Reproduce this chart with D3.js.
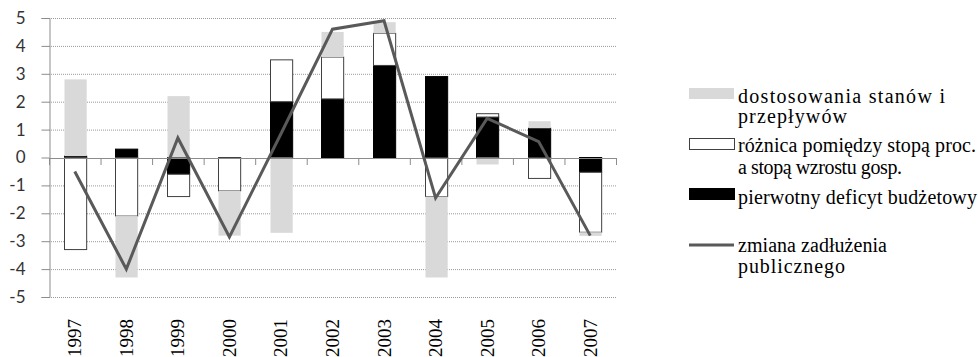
<!DOCTYPE html>
<html>
<head>
<meta charset="utf-8">
<script src="https://cdn.jsdelivr.net/npm/d3@7"></script>
<style>
  html, body { margin: 0; padding: 0; background: #fff; }
  svg { display: block; }
</style>
</head>
<body>
<svg id="chart" width="978" height="357"></svg>
<script>
// Years on the category axis
const years = ["1997","1998","1999","2000","2001","2002","2003","2004","2005","2006","2007"];
// Primary budget deficit (black)
const primaryDeficit = [0.05, 0.3, -0.6, 0, 2.0, 2.1, 3.3, 2.9, 1.45, 1.05, -0.53];
// Interest rate minus growth rate differential (white)
const rateGrowthGap = [-3.3, -2.1, -0.8, -1.2, 1.5, 1.5, 1.15, -1.4, 0.12, -0.75, -2.15];
// Stock-flow adjustments (grey)
const stockFlowAdj = [2.75, -2.2, 2.2, -1.6, -2.7, 0.9, 0.4, -2.9, -0.25, 0.25, -0.13];
// Change in public debt (line)
const debtChange = [-0.5, -4.0, 0.7, -2.85, 0.85, 4.6, 4.9, -1.45, 1.4, 0.57, -2.8];
// Value axis ticks
const yTicks = [-5,-4,-3,-2,-1,0,1,2,3,4,5];

const seriesKeys = ["deficit", "gap", "adj"];
const seriesFill = { deficit: "#000000", gap: "#ffffff", adj: "#d9d9d9" };
const seriesStroke = { deficit: "#000000", gap: "#404040", adj: "none" };

const rows = years.map((yr, i) => ({
  year: yr, deficit: primaryDeficit[i], gap: rateGrowthGap[i], adj: stockFlowAdj[i]
}));

const svg = d3.select("#chart");
const plotLeft = 49, plotRight = 616, plotTop = 18, plotBottom = 297;

const x = d3.scaleBand().domain(years).range([plotLeft, plotRight]).padding(0);
const xi = d3.scaleLinear().domain([0, years.length]).range([plotLeft, plotRight]);
const y = d3.scaleLinear().domain([-5, 5]).range([plotBottom, plotTop]);

// Dotted horizontal gridlines
svg.append("g")
  .selectAll("line")
  .data(yTicks.filter(d => d !== 0))
  .join("line")
  .attr("x1", plotLeft).attr("x2", plotRight)
  .attr("y1", d => y(d) + 0.5).attr("y2", d => y(d) + 0.5)
  .attr("stroke", "#9a9a9a")
  .attr("stroke-width", 1)
  .attr("stroke-dasharray", "1,1");

// Value axis
const yAxis = svg.append("g")
  .attr("transform", `translate(${plotLeft + 0.5},0)`)
  .call(d3.axisLeft(y).tickValues(yTicks).tickSize(8).tickPadding(16)
    .tickFormat(d => String(d)));
yAxis.select(".domain").attr("stroke", "#8c8c8c");
yAxis.selectAll(".tick line").attr("stroke", "#8c8c8c");
yAxis.selectAll(".tick text")
  .attr("font-family", "Lato, 'Open Sans', sans-serif")
  .attr("font-size", 17)
  .attr("fill", "#333");

// Stacked columns (positives and negatives stacked separately)
const stacked = d3.stack().keys(seriesKeys).offset(d3.stackOffsetDiverging)(rows);
const barW = x.bandwidth() * 0.43;

svg.append("g")
  .selectAll("g")
  .data(stacked)
  .join("g")
  .attr("fill", s => seriesFill[s.key])
  .attr("stroke", s => seriesStroke[s.key])
  .attr("stroke-width", 1)
  .selectAll("rect")
  .data(s => s.filter(d => d[1] - d[0] !== 0))
  .join("rect")
  .attr("x", d => Math.round(x(d.data.year) + (x.bandwidth() - barW) / 2) + 0.5)
  .attr("width", barW)
  .attr("y", d => y(Math.max(d[0], d[1])))
  .attr("height", d => Math.abs(y(d[0]) - y(d[1])));

// Category axis at zero with boundary tick marks
const xAxis = svg.append("g")
  .attr("transform", `translate(0,${y(0) + 0.5})`)
  .call(d3.axisBottom(xi).tickValues(d3.range(years.length + 1)).tickSize(7).tickFormat(""));
xAxis.select(".domain").attr("stroke", "#8c8c8c");
xAxis.selectAll(".tick line").attr("stroke", "#8c8c8c");

// Year labels, rotated
svg.append("g")
  .selectAll("text")
  .data(years)
  .join("text")
  .attr("transform", d => `translate(${x(d) + x.bandwidth() / 2 + 6.5},319) rotate(-90)`)
  .attr("text-anchor", "end")
  .attr("font-family", "'Liberation Serif', 'Times New Roman', serif")
  .attr("font-size", 19)
  .attr("fill", "#000")
  .text(d => d);

// Debt change line
const line = d3.line()
  .x((d, i) => x(years[i]) + x.bandwidth() / 2)
  .y(d => y(d));
svg.append("path")
  .datum(debtChange)
  .attr("d", line)
  .attr("fill", "none")
  .attr("stroke", "#595959")
  .attr("stroke-width", 3)
  .attr("stroke-linejoin", "miter");

// Legend
const lg = svg.append("g")
  .attr("font-family", "'Liberation Serif', 'Times New Roman', serif")
  .attr("font-size", 20)
  .attr("fill", "#000");

const legendItems = [
  { kind: "adj", sy: 88, lines: [["dostosowania stanów i", 103, 207], ["przepływów", 123, 109]] },
  { kind: "gap", sy: 138, lines: [["różnica pomiędzy stopą proc.", 152, 238], ["a stopą wzrostu gosp.", 174, 164]] },
  { kind: "deficit", sy: 188, lines: [["pierwotny deficyt budżetowy", 204, 239]] },
  { kind: "line", sy: 245, lines: [["zmiana zadłużenia", 252, 149], ["publicznego", 273, 107]] }
];

legendItems.forEach(item => {
  if (item.kind === "line") {
    lg.append("line")
      .attr("x1", 689).attr("x2", 734)
      .attr("y1", item.sy).attr("y2", item.sy)
      .attr("stroke", "#595959").attr("stroke-width", 3);
  } else {
    lg.append("rect")
      .attr("x", item.kind === "adj" ? 689 : 689.5)
      .attr("y", item.kind === "adj" ? item.sy : item.sy + 0.5)
      .attr("width", 45).attr("height", 11)
      .attr("fill", seriesFill[item.kind])
      .attr("stroke", seriesStroke[item.kind]);
  }
  item.lines.forEach(([t, by, len]) => {
    lg.append("text")
      .attr("x", 738).attr("y", by)
      .attr("textLength", len)
      .attr("lengthAdjust", "spacing")
      .text(t);
  });
});
</script>
</body>
</html>
